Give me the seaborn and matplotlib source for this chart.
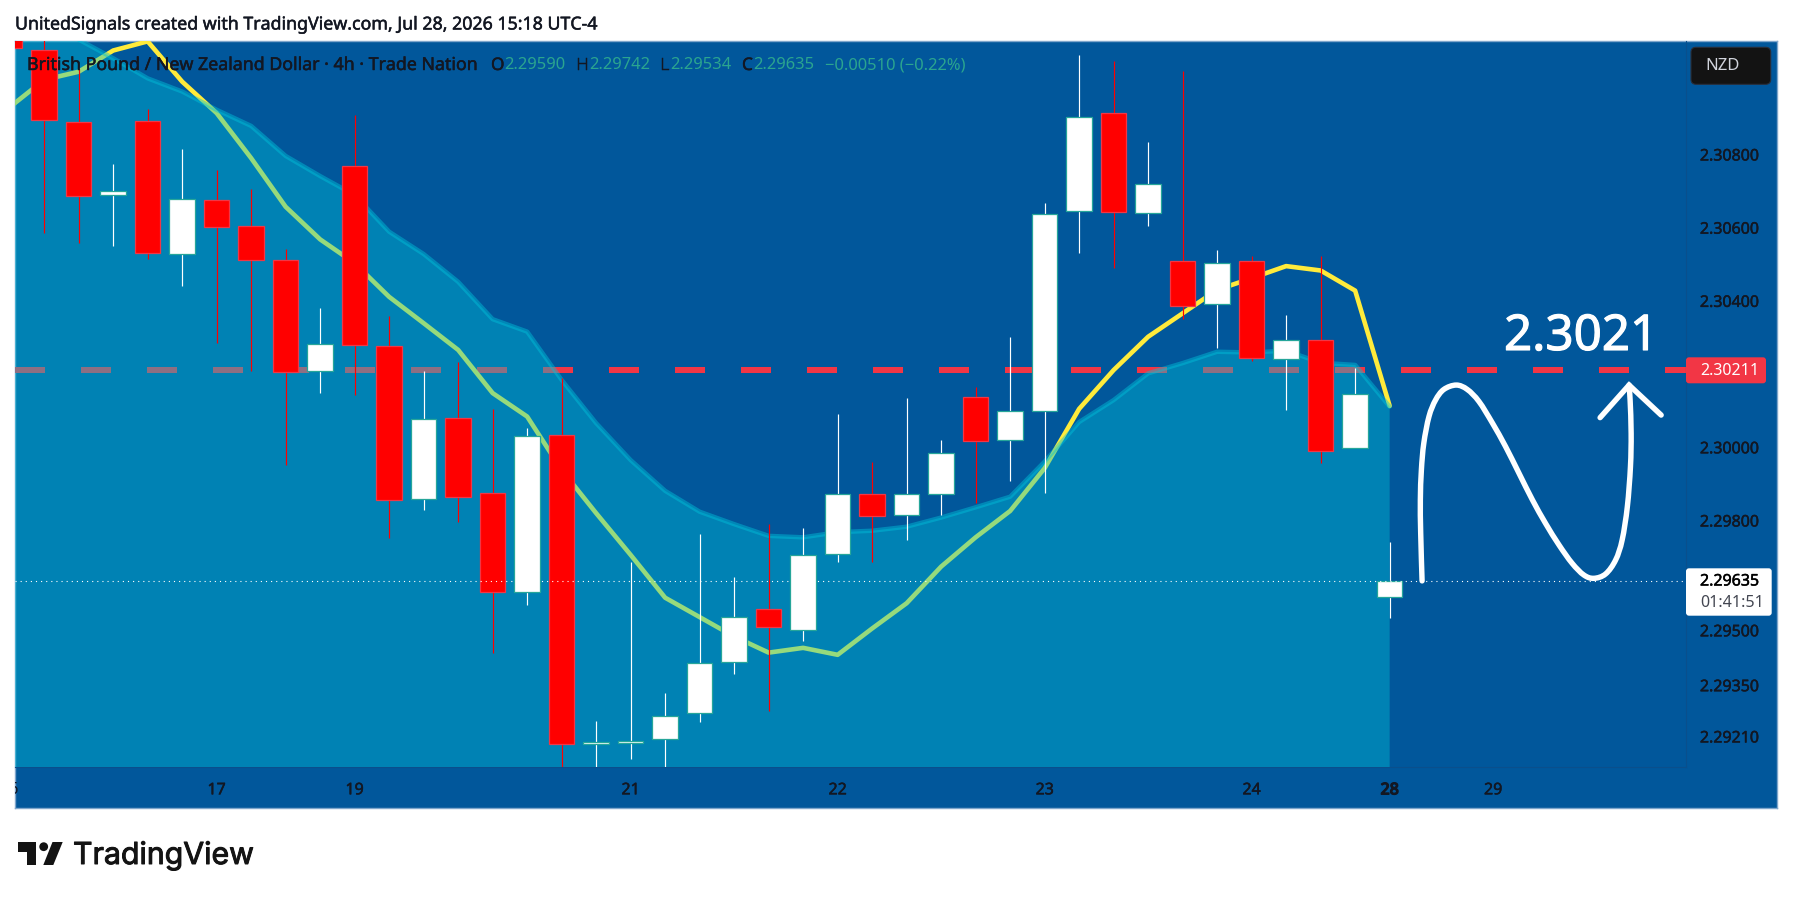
import matplotlib
matplotlib.use('Agg')
import matplotlib.pyplot as plt
import matplotlib.patheffects as pe
from matplotlib.path import Path
from matplotlib.patches import Circle, FancyBboxPatch, PathPatch, Polygon
import numpy as np
import pandas as pd
import seaborn as sns

# GBPNZD 4h candles, first one is the cut off bar at the left edge
opens = [2.31180, 2.31085, 2.30888, 2.30689, 2.30891, 2.30527, 2.30675, 2.30604, 2.30511, 2.30208, 2.30768,
         2.30276, 2.29858, 2.30079, 2.29874, 2.29604, 2.30033, 2.29189, 2.29191, 2.29202, 2.29274, 2.29413,
         2.29557, 2.29501, 2.29708, 2.29872, 2.29814, 2.29872, 2.30137, 2.30019, 2.30098, 2.30645, 2.30913,
         2.30639, 2.30508, 2.30391, 2.30508, 2.30241, 2.30292, 2.29997, 2.29590]
highs = [2.31200, 2.31130, 2.31034, 2.30774, 2.30923, 2.30815, 2.30758, 2.30705, 2.30542, 2.30381, 2.30908,
         2.30359, 2.30208, 2.30233, 2.30105, 2.30052, 2.30189, 2.29252, 2.29687, 2.29329, 2.29763, 2.29646,
         2.29790, 2.29779, 2.30091, 2.29961, 2.30135, 2.30020, 2.30165, 2.30301, 2.30667, 2.31072, 2.31055,
         2.30834, 2.31027, 2.30538, 2.30523, 2.30361, 2.30523, 2.30216, 2.29742]
lows = [2.31092, 2.30586, 2.30557, 2.30551, 2.30515, 2.30442, 2.30284, 2.30209, 2.29951, 2.30149, 2.30144,
        2.29751, 2.29830, 2.29797, 2.29437, 2.29570, 2.29110, 2.29110, 2.29149, 2.29110, 2.29250, 2.29381,
        2.29280, 2.29472, 2.29687, 2.29687, 2.29748, 2.29816, 2.29847, 2.29909, 2.29876, 2.30532, 2.30491,
        2.30605, 2.30350, 2.30272, 2.30237, 2.30103, 2.29956, 2.29997, 2.29534]
closes = [2.31092, 2.30893, 2.30686, 2.30701, 2.30530, 2.30679, 2.30601, 2.30511, 2.30205, 2.30283, 2.30279,
          2.29855, 2.30077, 2.29865, 2.29604, 2.30030, 2.29189, 2.29196, 2.29198, 2.29267, 2.29411, 2.29537,
          2.29508, 2.29707, 2.29873, 2.29811, 2.29873, 2.29985, 2.30018, 2.30100, 2.30638, 2.30903, 2.30642,
          2.30718, 2.30385, 2.30504, 2.30243, 2.30294, 2.29989, 2.30145, 2.29635]

ma_line = [2.30929, 2.31004, 2.31026, 2.31084, 2.31109, 2.30999, 2.30913, 2.30790, 2.30657, 2.30568, 2.30503,
           2.30411, 2.30339, 2.30266, 2.30148, 2.30084, 2.29938, 2.29820, 2.29706, 2.29589, 2.29536, 2.29483,
           2.29439, 2.29452, 2.29433, 2.29505, 2.29574, 2.29674, 2.29754, 2.29826, 2.29943, 2.30105, 2.30211,
           2.30302, 2.30366, 2.30430, 2.30462, 2.30495, 2.30483, 2.30428, 2.30113]
area_top = [2.31200, 2.31170, 2.31114, 2.31063, 2.31008, 2.30972, 2.30922, 2.30878, 2.30796, 2.30741, 2.30689,
            2.30589, 2.30528, 2.30452, 2.30350, 2.30316, 2.30184, 2.30066, 2.29965, 2.29881, 2.29824, 2.29790,
            2.29758, 2.29754, 2.29768, 2.29772, 2.29783, 2.29808, 2.29836, 2.29865, 2.29961, 2.30069, 2.30129,
            2.30202, 2.30230, 2.30261, 2.30259, 2.30264, 2.30231, 2.30225, 2.30111]

# the hand drawn path and arrow head, bar index / price
curve_idx = [39.94, 39.90, 39.89, 39.92, 39.99, 40.14, 40.33, 40.57, 40.93, 41.25, 41.59, 41.98, 42.36, 42.75,
             43.14, 43.52, 43.91, 44.29, 44.63, 44.92, 45.26, 45.55, 45.74, 45.89, 45.98, 46.00, 45.97, 45.94]
curve_price = [2.29635, 2.29765, 2.29856, 2.29938, 2.30011, 2.30084, 2.30129, 2.30158, 2.30170, 2.30158, 2.30125,
               2.30066, 2.30002, 2.29929, 2.29856, 2.29792, 2.29733, 2.29683, 2.29651, 2.29642, 2.29654, 2.29692,
               2.29747, 2.29838, 2.29947, 2.30038, 2.30129, 2.30170]
head_idx = [45.10, 45.94, 46.87]
head_price = [2.30081, 2.30170, 2.30088]

y_ticks = [2.30800, 2.30600, 2.30400, 2.30000, 2.29800, 2.29500, 2.29350, 2.29210]
x_ticks = [5, 9, 17, 23, 29, 35, 39, 42]
x_labels = ['17', '19', '21', '22', '23', '24', '28', '29']

last_price = 2.29635
target_price = 2.30211

BG = '#01579b'
AREA = '#00c2da'
DARK = '#131722'
TEAL = '#26a69a'
TAG_RED = '#f23645'

sns.set_theme(style='white')
plt.rcParams['font.family'] = ['Noto Sans', 'DejaVu Sans']

W, H = 1793, 899
fig = plt.figure(figsize=(W / 100, H / 100), dpi=100, facecolor='white')

# the hinted look of the original text is a bit heavier than the plain font
heavy = [pe.withStroke(linewidth=0.35, foreground=DARK)]


def box(x0, y0, x1, y1):
    # pixel box to figure fractions
    return [x0 / W, 1 - y1 / H, (x1 - x0) / W, (y1 - y0) / H]


def smooth_path(xs, ys):
    # round the hand drawing through its points with bezier segments
    p = np.column_stack([xs, ys])
    verts = [p[0]]
    codes = [Path.MOVETO]
    for i in range(len(p) - 1):
        p0 = p[max(i - 1, 0)]
        p3 = p[min(i + 2, len(p) - 1)]
        verts += [p[i] + (p[i + 1] - p0) / 6, p[i + 1] - (p3 - p[i]) / 6, p[i + 1]]
        codes += [Path.CURVE4] * 3
    return Path(verts, codes)


panel = fig.add_axes(box(15, 41, 1777, 808), facecolor=BG)
panel.set_xticks([])
panel.set_yticks([])
for s in panel.spines.values():
    s.set_color('#7fa6cc')
    s.set_linewidth(1)

ax = fig.add_axes(box(15, 41, 1686, 767), facecolor='none')

df = pd.DataFrame({'idx': np.arange(-1, 40), 'open': opens, 'high': highs, 'low': lows, 'close': closes,
                   'ma': ma_line, 'area': area_top})
up = df[df['close'] >= df['open']]
down = df[df['close'] < df['open']]

ax.axhline(target_price, color=TAG_RED, lw=4.32, ls=(0, (5, 6)), zorder=1)
sns.lineplot(data=df, x='idx', y='ma', color='#ffeb3b', linewidth=3.3, ax=ax, zorder=2)
ax.fill_between(df['idx'], 2.28, df['area'], color=AREA, alpha=0.41, lw=0, zorder=3)
sns.lineplot(data=df, x='idx', y='area', color=AREA, alpha=0.45, linewidth=3.2, ax=ax, zorder=3)

for part, fill, edge in [(up, 'white', TEAL), (down, '#ff0000', TAG_RED)]:
    wick = 'white' if fill == 'white' else '#ff0000'
    ax.vlines(part['idx'], part['low'], part['high'], color=wick, lw=0.85, zorder=4)
    ax.bar(part['idx'], (part['close'] - part['open']).abs(), bottom=part[['open', 'close']].min(axis=1),
           width=0.74, color=fill, edgecolor=edge, linewidth=0.9, zorder=5)

ax.axhline(last_price, color='white', lw=0.8, ls=(0, (1, 3.6)), zorder=6)

ax.add_patch(PathPatch(smooth_path(curve_idx, curve_price), fc='none', ec='white', lw=3.9, capstyle='round',
                       joinstyle='round', zorder=7))
sns.lineplot(x=head_idx, y=head_price, color='white', linewidth=3.9, sort=False, estimator=None, ax=ax, zorder=7,
             solid_capstyle='round', solid_joinstyle='miter')

ax.set_xlim(-0.845, 47.59)
ax.set_ylim(2.291265, 2.311100)
ax.set(xlabel='', ylabel='')
ax.set_xticks(x_ticks, x_labels)
ax.set_yticks(y_ticks, [f'{v:.5f}' for v in y_ticks])
ax.tick_params(axis='x', length=0, pad=11, labelsize=11.5, labelcolor=DARK)
ax.tick_params(axis='y', length=0, pad=10, labelsize=11.5, labelcolor=DARK, left=False, right=False,
               labelleft=False, labelright=True)
for t in ax.get_xticklabels() + ax.get_yticklabels():
    t.set_path_effects(heavy)
ax.get_xticklabels()[6].set_path_effects([pe.withStroke(linewidth=1.0, foreground=DARK)])
for s in ax.spines.values():
    s.set_visible(False)
for side in ['right', 'bottom']:
    ax.spines[side].set_visible(True)
    ax.spines[side].set_color('#0a4f8c')
    ax.spines[side].set_linewidth(0.8)

# the day label cut by the left edge of the panel
panel.text(-1, -0.031, '16', transform=ax.get_xaxis_transform(), ha='center', va='center', fontsize=11.5,
           color=DARK, clip_on=True)

# everything else sits in pixel coordinates
over = fig.add_axes([0, 0, 1, 1], facecolor='none')
over.set_xlim(0, W)
over.set_ylim(H, 0)
over.axis('off')


def label(x, y, s, color=DARK, size=11.5, ha='left', **kw):
    over.text(x, y, s, color=color, fontsize=size, ha=ha, va='center', **kw)


label(15, 24.5, 'UnitedSignals created with TradingView.com, Jul 28, 2026 15:18 UTC-4', size=12.8, path_effects=heavy)
label(27, 65, 'British Pound / New Zealand Dollar \u00b7 4h \u00b7 Trade Nation', size=12.8, path_effects=heavy)
for x, s in [(491, 'O'), (576, 'H'), (660, 'L'), (742, 'C')]:
    label(x, 65, s, size=12.4, path_effects=heavy)
for x, s in [(504, '2.29590'), (589, '2.29742'), (670, '2.29534'), (753, '2.29635'), (825, '\u22120.00510 (\u22120.22%)')]:
    label(x, 65, s, color='#2ba58f', size=11.9)

label(1504, 337, '2.3021', color='white', size=35.5,
      path_effects=[pe.withStroke(linewidth=0.8, foreground='white')])

over.add_patch(FancyBboxPatch((1691, 47.3), 79.7, 37, boxstyle='round,pad=0,rounding_size=5', fc='#131313',
                              ec='#2a2e39', lw=0.8))
label(1705, 65.5, 'NZD', color='#d1d4dc', size=12)

over.add_patch(FancyBboxPatch((1686, 357.3), 80, 26, boxstyle='round,pad=0,rounding_size=3', fc=TAG_RED, ec='none'))
label(1700, 370.8, '2.30211', color='white')

over.add_patch(FancyBboxPatch((1686, 568.3), 85.7, 47.4, boxstyle='round,pad=0,rounding_size=3', fc='white', ec='none'))
label(1700, 581.5, '2.29635', color='black', path_effects=[pe.withStroke(linewidth=0.35, foreground='black')])
label(1700, 602.7, '01:41:51', color='#434651')

# TradingView logo and word mark
LOGO = '#131313'
over.add_patch(Polygon([(18, 842), (36, 842), (36, 865), (26.7, 865), (26.7, 851.7), (18, 851.7)], fc=LOGO, ec='none'))
over.add_patch(Circle((43.7, 846.7), 4.4, fc=LOGO, ec='none'))
over.add_patch(Polygon([(52.5, 842), (62.7, 842), (53.3, 865), (43.3, 865)], fc=LOGO, ec='none'))
over.text(73, 864, 'TradingView', color=LOGO, fontsize=21.8, family='Inter', ha='left', va='baseline',
          path_effects=[pe.withStroke(linewidth=0.7, foreground=LOGO)])

fig.savefig('out.png', dpi=100, facecolor='white')
